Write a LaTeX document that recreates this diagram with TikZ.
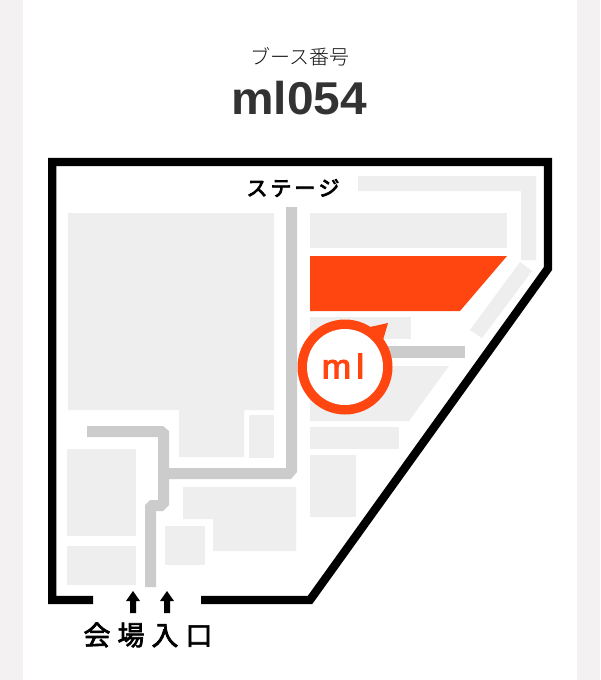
\documentclass[tikz,border=0pt]{standalone}
\usepackage{fontspec}
\setmainfont{Liberation Sans}
\newfontfamily\cjkl{Noto Sans CJK JP Light}
\newfontfamily\cjks{Noto Sans CJK JP}
\newcommand{\heavytext}[2]{\special{pdf:code 2 Tr #1 w}#2\special{pdf:code 0 Tr 0.4 w}}
\definecolor{pagegray}{HTML}{F3F1F2}
\definecolor{blocklight}{HTML}{EEEEEE}
\definecolor{corridor}{HTML}{CCCCCC}
\definecolor{accent}{HTML}{FF4510}
\definecolor{headtext}{HTML}{333333}
\definecolor{subtext}{HTML}{111111}
\tikzset{
  block/.style={fill=blocklight,draw=none},
  hall/.style={fill=corridor,draw=none},
  wallline/.style={draw=black,line width=8.4pt,miter limit=10},
  entry/.style={fill=black,draw=none},
  label/.style={inner sep=0pt,outer sep=0pt,anchor=center}
}
\begin{document}
\begin{tikzpicture}[x=1pt,y=-1pt]
\useasboundingbox (0,0) rectangle (600,680);
\fill[white] (0,0) rectangle (600,680);
\fill[pagegray] (0,0) rectangle (23,680);
\fill[pagegray] (577,0) rectangle (600,680);
% light blocks
\fill[block] (68,213) -- (274,213) -- (274,410) -- (244,410) -- (244,457) -- (179,457) -- (179,410) -- (68,410) -- cycle;
\fill[block] (249,415) rectangle (274,458);
\fill[block] (67,449) rectangle (136,536);
\fill[block] (67,546) rectangle (136,585);
\fill[block] (165,526) rectangle (205,565);
\fill[block] (183,487) -- (296,487) -- (296,551) -- (213,551) -- (213,519) -- (183,519) -- cycle;
\fill[block] (310,213) rectangle (507,248);
\fill[block] (310,317) rectangle (411,339);
\fill[block] (310,366) -- (449,366) -- (409,421) -- (310,421) -- cycle;
\fill[block] (310,427) rectangle (399,449);
\fill[block] (310,455) rectangle (356,517);
\fill[block] (358,176) -- (536,176) -- (536,260) -- (521,260) -- (521,191) -- (358,191) -- cycle;
\fill[block] (520,262) -- (532,271) -- (482,338) -- (470,330) -- cycle;
% corridors
\fill[hall] (286,207) -- (297,207) -- (297,472) -- (291,479) -- (169,479) -- (169,505) -- (163,511) -- (156,511) -- (156,587) -- (145,587) -- (145,505) -- (150,500) -- (158,500) -- (158,437) -- (87,437) -- (87,426) -- (163,426) -- (169,431) -- (169,468) -- (286,468) -- cycle;
\fill[hall] (380,346) rectangle (465,358);
% target booth
\fill[accent] (310,256) -- (507,256) -- (460,311) -- (310,311) -- cycle;
% walls
\draw[wallline] (93,600) -- (52.2,600) -- (52.2,162) -- (548,162) -- (548,268.5) -- (310,600) -- (201,600);
% pin
\fill[accent] (345,367) circle[radius=47.5];
\fill[accent] (370,327) -- (388,323) -- (383,340) -- cycle;
\fill[white] (345,367) circle[radius=38];
\node[label,text=accent,font=\fontsize{34}{34}\selectfont,xscale=1.04] (pinlabel) at (343,366) {\heavytext{1.1}{m\hspace{5pt}l}};
% heading
\node[label,text=subtext,font=\cjkl\fontsize{20}{20}\selectfont] (boothlabel) at (300,57) {ブース番号};
\node[label,text=headtext,font=\bfseries\fontsize{46}{46}\selectfont,xscale=1.04] (boothno) at (299,98) {ml054};
\node[label,font=\cjks\fontsize{21}{21}\selectfont] (stage) at (293,188) {\heavytext{0.8}{ス\hspace{3pt}テ\hspace{3pt}ー\hspace{3pt}ジ}};
% entrance
\fill[entry] (130,613) -- (130,601) -- (126,601) -- (133,591) -- (140,601) -- (136,601) -- (136,613) -- cycle;
\fill[entry] (164,613) -- (164,601) -- (160,601) -- (167,591) -- (174,601) -- (170,601) -- (170,613) -- cycle;
\node[label,font=\cjks\fontsize{27}{27}\selectfont] (entrance) at (148,635) {\heavytext{0.7}{会\hspace{7pt}場\hspace{7pt}入\hspace{7pt}口}};
\end{tikzpicture}
\end{document}
